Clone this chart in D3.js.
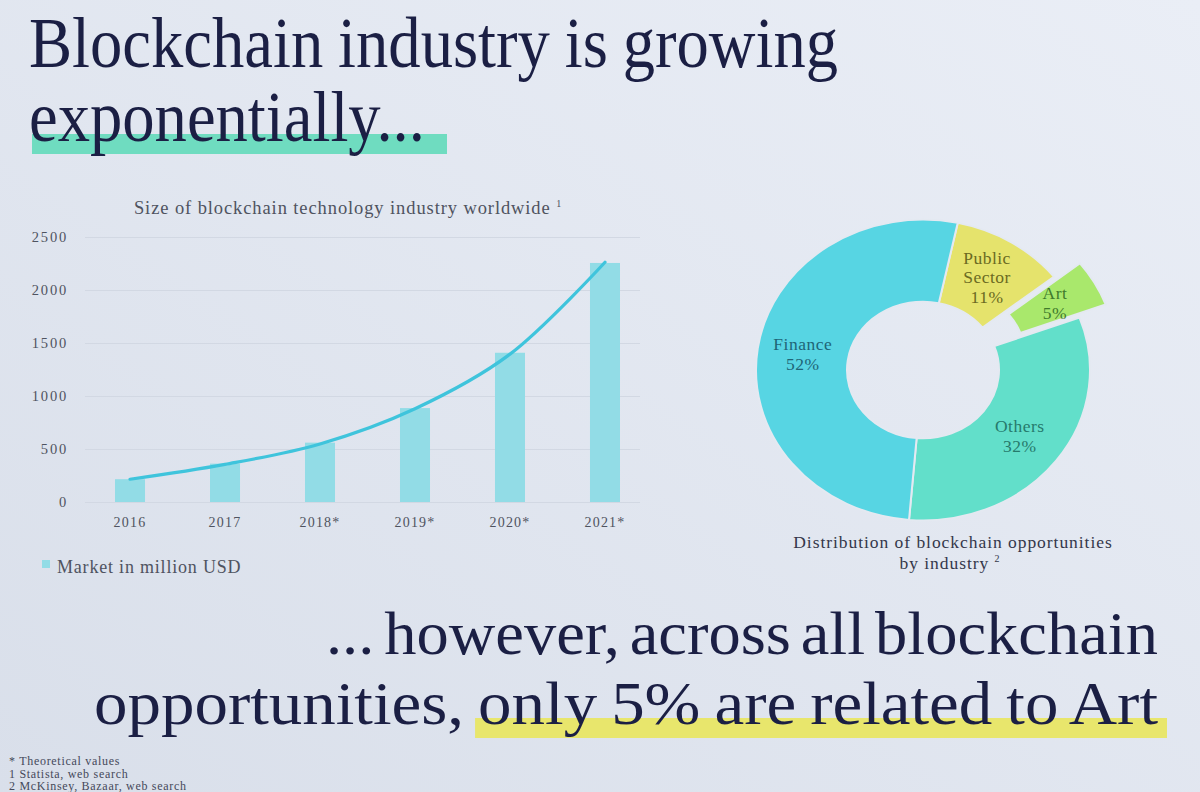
<!DOCTYPE html>
<html>
<head>
<meta charset="utf-8">
<script src="https://cdn.jsdelivr.net/npm/d3@7"></script>
<style>
  body { margin: 0; }
  svg { display: block; }
  text { font-family: "Liberation Serif", "DejaVu Serif", serif; }
</style>
</head>
<body>
<script>
// bar chart data (million USD)
var years = ["2016", "2017", "2018*", "2019*", "2020*", "2021*"];
var market = [215, 362, 560, 886, 1408, 2255];
var trend = [215, 355, 548, 880, 1395, 2262];
var yTicks = [0, 500, 1000, 1500, 2000, 2500];

// donut data, clockwise from the top
var sectors = ["Public Sector", "Art", "Others", "Finance"];
var shares = [11, 5, 32, 52];
var sectorColors = ["#e5e36c", "#a9e86c", "#62dfca", "#57d5e3"];
var labelColors = ["#6a6a22", "#3f7a2c", "#267a6c", "#1f6577"];

var w = 1200;
var h = 792;

var svg = d3.select("body")
  .append("svg")
  .attr("width", w)
  .attr("height", h);

// slide background, a bit lighter at the top right like the photo
var defs = svg.append("defs");
var grad = defs.append("linearGradient")
  .attr("id", "bg")
  .attr("x1", "100%").attr("y1", "0%")
  .attr("x2", "0%").attr("y2", "100%");
grad.append("stop").attr("offset", "0%").attr("stop-color", "#eaeef6");
grad.append("stop").attr("offset", "100%").attr("stop-color", "#d9dfea");
svg.append("rect").attr("width", w).attr("height", h).attr("fill", "url(#bg)");

var navy = "#1b1f44";
var hlLayer = svg.append("g");

// headline text: scale the glyphs, then fit word gaps to the width
function headline(str, x0, y0, size, width, squeeze) {
  var t = svg.append("text")
    .attr("transform", "translate(" + x0 + "," + y0 + ") scale(" + squeeze + ",1)")
    .attr("font-size", size)
    .attr("fill", navy)
    .text(str);
  var natural = t.node().getComputedTextLength();
  var gaps = str.split(" ").length - 1;
  var ws = gaps ? (width / squeeze - natural) / gaps : 0;
  t.attr("word-spacing", ws);
  return t;
}

// x of a word inside a headline, in page pixels
function wordX(t, str, word, x0, squeeze) {
  var i = str.indexOf(word);
  return x0 + t.node().getStartPositionOfChar(i).x * squeeze;
}

var line1 = "Blockchain industry is growing";
var line2 = "exponentially...";
var line3 = "... however, across all blockchain";
var line4 = "opportunities, only 5% are related to Art";

headline(line1, 29, 67, 71, 809, 0.91);
headline(line2, 29, 141, 71, 401, 0.91);
headline(line3, 326, 654, 62, 832, 1.04);
var t4 = headline(line4, 94, 724, 62, 1064, 1.08);

hlLayer.append("rect").attr("x", 32).attr("y", 134).attr("width", 415).attr("height", 20)
  .attr("fill", "#6fdcc0");
var onlyX = wordX(t4, line4, "only", 94, 1.08);
hlLayer.append("rect").attr("x", onlyX - 3).attr("y", 718).attr("width", 1167 - onlyX + 3).attr("height", 20)
  .attr("fill", "#e8e66c");

// ---- bar chart ----
var x = d3.scaleBand()
  .domain(years)
  .range([67.5, 667.5])
  .paddingInner(0.684)
  .paddingOuter(0.5);

var y = d3.scaleLinear()
  .domain([0, 2500])
  .range([502, 237]);

var grey = "#4f5360";

svg.append("text")
  .attr("x", 348).attr("y", 214)
  .attr("text-anchor", "middle")
  .attr("font-size", 18.5).attr("letter-spacing", 0.9).attr("fill", grey)
  .text("Size of blockchain technology industry worldwide ")
  .append("tspan").attr("font-size", 10).attr("dy", -7).text("1");

var yAxis = svg.append("g")
  .attr("transform", "translate(85,0)")
  .call(d3.axisLeft(y).tickValues(yTicks).tickFormat(d3.format("d")).tickSize(-555).tickPadding(17));
yAxis.select(".domain").remove();
yAxis.selectAll(".tick line").attr("stroke", "#d2d8e3").attr("stroke-width", 1);
yAxis.selectAll(".tick text")
  .attr("font-family", "Liberation Serif, serif")
  .attr("font-size", 14.5).attr("letter-spacing", 1.8).attr("fill", grey);

svg.selectAll("rect.bar")
  .data(market)
  .enter()
  .append("rect")
  .attr("class", "bar")
  .attr("x", function(d, i) { return x(years[i]); })
  .attr("width", x.bandwidth())
  .attr("y", function(d) { return y(d); })
  .attr("height", function(d) { return y(0) - y(d); })
  .attr("fill", "#92dce6");

var xAxis = svg.append("g")
  .attr("transform", "translate(0,502)")
  .call(d3.axisBottom(x).tickSize(0).tickPadding(15));
xAxis.select(".domain").remove();
xAxis.selectAll(".tick text")
  .attr("font-family", "Liberation Serif, serif")
  .attr("font-size", 14).attr("letter-spacing", 1.2).attr("fill", grey);

var line = d3.line()
  .x(function(d, i) { return x(years[i]) + x.bandwidth() / 2; })
  .y(function(d) { return y(d); })
  .curve(d3.curveCatmullRom);

svg.append("path")
  .datum(trend)
  .attr("d", line)
  .attr("fill", "none")
  .attr("stroke", "#3fc4dc")
  .attr("stroke-width", 3.2)
  .attr("stroke-linecap", "round");

// legend
svg.append("rect").attr("x", 42).attr("y", 560).attr("width", 8).attr("height", 8)
  .attr("fill", "#92dce6");
svg.append("text").attr("x", 57).attr("y", 573)
  .attr("font-size", 18).attr("letter-spacing", 0.8).attr("fill", grey)
  .text("Market in million USD");

// ---- donut ----
var cx = 923, cy = 370, squash = 0.9;
var outerR = 167, innerR = 76, artPush = 30;

var pie = d3.pie().sort(null)
  .startAngle(12 * Math.PI / 180)
  .endAngle(12 * Math.PI / 180 + 2 * Math.PI);
var arcs = pie(shares);

var arc = d3.arc().innerRadius(innerR).outerRadius(outerR);

function push(d, i) {
  if (sectors[i] !== "Art") return [0, 0];
  var a = (d.startAngle + d.endAngle) / 2;
  return [Math.sin(a) * artPush, -Math.cos(a) * artPush];
}

var donut = svg.append("g")
  .attr("transform", "translate(" + cx + "," + cy + ") scale(1," + squash + ")");

donut.selectAll("path")
  .data(arcs)
  .enter()
  .append("path")
  .attr("d", arc)
  .attr("transform", function(d, i) { var p = push(d, i); return "translate(" + p[0] + "," + p[1] + ")"; })
  .attr("fill", function(d, i) { return sectorColors[i]; })
  .attr("stroke", "#e4e9f1")
  .attr("stroke-width", 2);

var labelLines = [["Public", "Sector", "11%"], ["Art", "5%"], ["Others", "32%"], ["Finance", "52%"]];

svg.selectAll("text.slice")
  .data(arcs)
  .enter()
  .append("text")
  .attr("class", "slice")
  .attr("text-anchor", "middle")
  .attr("font-size", 17.5)
  .attr("letter-spacing", 0.5)
  .attr("fill", function(d, i) { return labelColors[i]; })
  .each(function(d, i) {
    var c = arc.centroid(d);
    var p = push(d, i);
    var px = cx + c[0] + p[0];
    var py = cy + (c[1] + p[1]) * squash;
    var lines = labelLines[i];
    var t = d3.select(this);
    lines.forEach(function(s, k) {
      t.append("tspan")
        .attr("x", px)
        .attr("y", py + 6 + (k - (lines.length - 1) / 2) * 19.5)
        .text(s);
    });
  });

svg.append("text").attr("x", 953).attr("y", 548)
  .attr("text-anchor", "middle").attr("font-size", 17.5).attr("letter-spacing", 0.95).attr("fill", "#34374a")
  .text("Distribution of blockchain opportunities");
svg.append("text").attr("x", 950).attr("y", 569)
  .attr("text-anchor", "middle").attr("font-size", 17.5).attr("letter-spacing", 0.95).attr("fill", "#34374a")
  .text("by industry ")
  .append("tspan").attr("font-size", 10).attr("dy", -7).text("2");

// footnotes
var notes = ["* Theoretical values", "1 Statista, web search", "2 McKinsey, Bazaar, web search"];
svg.selectAll("text.note")
  .data(notes)
  .enter()
  .append("text")
  .attr("class", "note")
  .attr("x", 9)
  .attr("y", function(d, i) { return 765 + i * 12.5; })
  .attr("font-size", 12)
  .attr("letter-spacing", 0.7)
  .attr("fill", "#45495a")
  .text(function(d) { return d; });
</script>
</body>
</html>
